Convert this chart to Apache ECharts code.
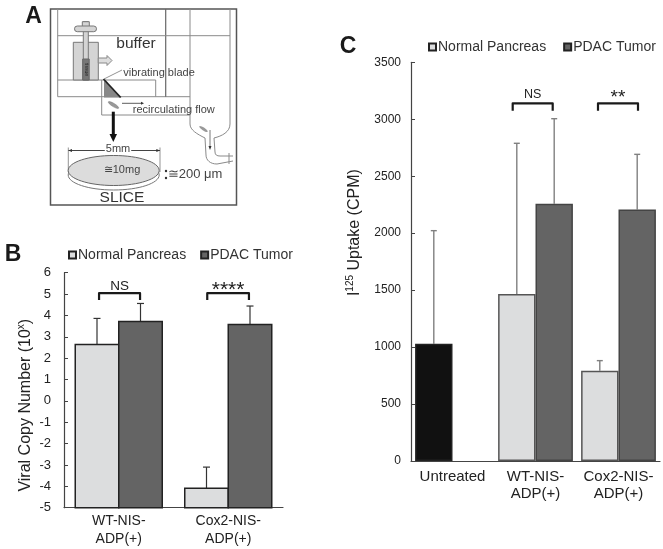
<!DOCTYPE html>
<html><head><meta charset="utf-8">
<style>html,body{margin:0;padding:0;background:#fff}#c{width:663px;height:549px}</style>
<script src="https://cdn.jsdelivr.net/npm/echarts@6/dist/echarts.min.js"></script>
</head><body><div id="c"></div>
<script>
const seriesNames = ['Normal Pancreas', 'PDAC Tumor'];
const bCategories = ['WT-NIS-\nADP(+)', 'Cox2-NIS-\nADP(+)'];
const bNormal = [2.64, -4.09];
const bNormalUpper = [3.86, -3.10];
const bTumor = [3.72, 3.58];
const bTumorUpper = [4.56, 4.44];
const bMarks = ['NS', '****'];
const bBracketTop = [5.04, 5.04];
const bBracketFoot = [4.72, 4.72];

const cCategories = ['Untreated', 'WT-NIS-\nADP(+)', 'Cox2-NIS-\nADP(+)'];
const cNormal = [1030, 1466, 793];
const cNormalUpper = [2022, 2789, 881];
const cTumor = [null, 2259, 2207];
const cTumorUpper = [null, 3005, 2692];
const cMarks = [null, 'NS', '**'];
const cBracketTop = [null, 3140, 3140];
const cBracketFoot = [null, 3075, 3075];

const FONT = '"Liberation Sans", Arial, sans-serif';
const LIGHT = '#dcddde', DARK = '#646464';
const chart = echarts.init(document.getElementById('c'), null, {renderer: 'canvas'});

// Panel B: bars rise from the axis floor (-5), as in the original, so they are custom marks.
function floorBar(floor, dir, width, border) {
  return (p, api) => {
    const x = api.value(0), v = api.value(1);
    const top = api.coord([x, v]), base = api.coord([x, floor]);
    const left = dir < 0 ? top[0] - width : top[0];
    return {type: 'rect', shape: {x: left, y: top[1], width, height: base[1] - top[1]},
      style: {fill: api.visual('color'), stroke: border, lineWidth: 1.5}};
  };
}
function errorBar(dir, halfBar, cap, color, lw) {
  return (p, api) => {
    const x = api.value(0), v = api.value(1), u = api.value(2);
    const a = api.coord([x, v]), b = api.coord([x, u]);
    const cx = a[0] + dir * halfBar;
    const style = {stroke: color, lineWidth: lw, fill: null};
    return {type: 'group', children: [
      {type: 'line', shape: {x1: cx, y1: a[1], x2: cx, y2: b[1]}, style},
      {type: 'line', shape: {x1: cx - cap, y1: b[1], x2: cx + cap, y2: b[1]}, style}
    ]};
  };
}
function bracket(lo, hi, labelGap, fontSize) {
  return (p, api) => {
    const i = p.dataIndex;
    const x = api.value(0), t = api.value(1), f = api.value(2);
    const a = api.coord([x, t]), b = api.coord([x, f]);
    return {type: 'group', children: [
      {type: 'polyline', shape: {points: [[a[0] + lo[i], b[1]], [a[0] + lo[i], a[1]], [a[0] + hi[i], a[1]], [a[0] + hi[i], b[1]]]},
        style: {stroke: '#1a1a1a', lineWidth: 2.2, fill: null, lineJoin: 'round'}},
      {type: 'text', style: {x: a[0] + (lo[i] + hi[i]) / 2, y: a[1] - labelGap[i],
        text: api.value(3), fill: '#222', font: fontSize[i] + 'px ' + FONT, textAlign: 'center', textVerticalAlign: 'middle'}}
    ]};
  };
}

const axisCommon = {
  axisLine: {show: true, lineStyle: {color: '#444', width: 1.2}},
  axisTick: {show: true, inside: true, length: 4, lineStyle: {color: '#444', width: 1}},
  splitLine: {show: false}
};
const sup = {t: {fontSize: 16, fontFamily: FONT, color: '#222', lineHeight: 20},
             s: {fontSize: 10, fontFamily: FONT, color: '#222', lineHeight: 20, verticalAlign: 'top', padding: [0, 0, 6, 0]}};

// Panel A: apparatus schematic
function L(pts, color, w, fill) {
  return {type: 'polyline', shape: {points: pts}, style: {stroke: color || '#8a8a8a', lineWidth: w || 1, fill: fill || null}};
}
function R(x, y, w, h, fill, stroke, r) {
  return {type: 'rect', shape: {x, y, width: w, height: h, r: r || 0}, style: {fill, stroke: stroke || '#888', lineWidth: 1}};
}
function T(x, y, text, size, extra) {
  return {type: 'text', style: Object.assign({x, y, text, font: size + 'px ' + FONT, fill: '#444', textAlign: 'center', textVerticalAlign: 'middle'}, extra || {})};
}
function curve(x1, y1, cx1, cy1, cx2, cy2, x2, y2, w) {
  return {type: 'bezierCurve', shape: {x1, y1, cpx1: cx1, cpy1: cy1, cpx2: cx2, cpy2: cy2, x2, y2}, style: {stroke: '#8a8a8a', lineWidth: w || 1, fill: null}};
}
const schematic = [
  {type: 'rect', shape: {x: 50.5, y: 9, width: 186, height: 196}, style: {fill: '#fff', stroke: '#555', lineWidth: 1.5}},
  L([[57.7, 9], [57.7, 96.7], [190, 96.7]]),
  L([[165.7, 9], [165.7, 96.7]], '#666', 1.2),
  L([[190, 9], [190, 115]]),
  L([[230, 9], [230, 124]]),
  L([[57.7, 35.7], [230, 35.7]]),
  L([[57.7, 80], [155.7, 80], [155.7, 96.7]]),
  L([[101.7, 80], [101.7, 115], [190, 115], [190, 124]]),
  curve(190, 124, 190, 130, 197, 134, 205, 138),
  curve(230, 124, 230, 132, 222, 136, 214, 138),
  L([[205, 138], [206, 155]]),
  curve(206, 155, 206, 160, 210, 164, 217, 164),
  L([[217, 164], [233, 161]]),
  L([[214, 138], [215, 152]]),
  curve(215, 152, 215, 155, 217, 156, 220, 156),
  L([[220, 156], [233, 156]]),
  L([[229, 153], [229, 164]]),
  R(73.3, 42.3, 25, 37.7, '#d4d4d4', '#777'),
  R(83.3, 21.7, 5, 58.3, '#d4d4d4', '#777'),
  R(82.3, 21.7, 7, 5, '#d4d4d4', '#777'),
  R(74.5, 26, 22, 5.7, '#d4d4d4', '#777', 2.8),
  R(82.7, 59, 6.5, 21, '#777', '#666'),
  {type: 'text', x: 85.9, y: 69.5, rotation: -Math.PI / 2,
    style: {text: 'tissue', font: '5px ' + FONT, fill: '#222', textAlign: 'center', textVerticalAlign: 'middle'}},
  {type: 'polygon', shape: {points: [[98.3, 58], [107, 58], [107, 55.5], [112, 60.5], [107, 65.5], [107, 63], [98.3, 63]]}, style: {fill: '#ddd', stroke: '#888', lineWidth: 1}},
  {type: 'polygon', shape: {points: [[104, 80], [104, 97.5], [120.5, 97.5]]}, style: {fill: '#888', stroke: null}},
  L([[103.5, 79], [120.7, 97.5]], '#222', 1.8),
  L([[104, 79], [122, 70]], '#777', 0.8),
  T(159, 73, 'vibrating blade', 11),
  T(136, 44, 'buffer', 15.5, {fill: '#333'}),
  {type: 'ellipse', shape: {cx: 113.5, cy: 105, rx: 6, ry: 1.6}, rotation: -0.55, originX: 113.5, originY: 105, style: {fill: '#999', stroke: '#777', lineWidth: 0.5}},
  L([[122, 103.3], [141, 103.3]], '#333', 0.8),
  {type: 'polygon', shape: {points: [[141, 101.8], [141, 104.8], [144, 103.3]]}, style: {fill: '#333'}},
  T(173.8, 109.5, 'recirculating flow', 11),
  L([[113.3, 111.7], [113.3, 136]], '#111', 3),
  {type: 'polygon', shape: {points: [[109.5, 134], [117, 134], [113.3, 142]]}, style: {fill: '#111'}},
  L([[68.3, 150.5], [160, 150.5]], '#444', 1),
  L([[68.3, 147.5], [68.3, 172]], '#666', 0.7),
  L([[160, 147.5], [160, 172]], '#666', 0.7),
  {type: 'polygon', shape: {points: [[68.3, 150.5], [72, 149], [72, 152]]}, style: {fill: '#333'}},
  {type: 'polygon', shape: {points: [[160, 150.5], [156.3, 149], [156.3, 152]]}, style: {fill: '#333'}},
  T(118, 149, '5mm', 11, {backgroundColor: '#fff', padding: [0, 1, 0, 1]}),
  {type: 'ellipse', shape: {cx: 113.7, cy: 175, rx: 45.5, ry: 15}, style: {fill: '#fff', stroke: '#777', lineWidth: 1}},
  {type: 'ellipse', shape: {cx: 113.7, cy: 170.5, rx: 45.5, ry: 15}, style: {fill: '#dcdcdc', stroke: '#666', lineWidth: 1}},
  T(122, 170, '≅10mg', 11),
  {type: 'circle', shape: {cx: 166, cy: 171, r: 1.2}, style: {fill: '#333'}},
  {type: 'circle', shape: {cx: 166, cy: 178, r: 1.2}, style: {fill: '#333'}},
  T(195, 174, '≅200 μm', 13),
  T(122, 198, 'SLICE', 15.5, {fill: '#333'}),
  {type: 'ellipse', shape: {cx: 203.5, cy: 129, rx: 5, ry: 1.4}, rotation: -0.6, originX: 203.5, originY: 129, style: {fill: '#999'}},
  L([[210, 130], [210, 148]], '#555', 0.8),
  {type: 'polygon', shape: {points: [[208.5, 146], [211.5, 146], [210, 150]]}, style: {fill: '#333'}},
  T(33.5, 17, 'A', 23, {font: 'bold 23px ' + FONT, fill: '#1a1a1a'}),
  T(13, 255, 'B', 23, {font: 'bold 23px ' + FONT, fill: '#1a1a1a'}),
  T(348, 47, 'C', 23, {font: 'bold 23px ' + FONT, fill: '#1a1a1a'})
];

const legendBase = {
  data: seriesNames, icon: 'rect', itemWidth: 7, itemHeight: 7, selectedMode: false,
  textStyle: {fontFamily: FONT, fontSize: 14, color: '#333', padding: [0, 0, 0, -3]}, padding: 0
};
const bw = 43.5, cw = 37.4;

chart.setOption({
  animation: false,
  backgroundColor: '#fff',
  graphic: {elements: schematic},
  legend: [
    Object.assign({left: 68, top: 248, itemGap: 14}, legendBase),
    Object.assign({left: 428, top: 40, itemGap: 17}, legendBase)
  ],
  grid: [
    {left: 64, top: 272.7, width: 219, height: 235},
    {left: 411, top: 62.3, width: 249, height: 398.7}
  ],
  xAxis: [
    {type: 'category', gridIndex: 0, data: bCategories,
      axisLine: {lineStyle: {color: '#444', width: 1.2}, onZero: false}, axisTick: {show: false},
      axisLabel: {interval: 0, fontFamily: FONT, fontSize: 14, color: '#222', lineHeight: 17.5, margin: 5}},
    {type: 'category', gridIndex: 1, data: cCategories,
      axisLine: {lineStyle: {color: '#444', width: 1.2}}, axisTick: {show: false},
      axisLabel: {interval: 0, fontFamily: FONT, fontSize: 15, color: '#222', lineHeight: 16.5, margin: 8}}
  ],
  yAxis: [
    Object.assign({type: 'value', gridIndex: 0, min: -5, max: 6, interval: 1,
      axisLabel: {fontFamily: FONT, fontSize: 13, color: '#222', margin: 13},
      name: '{t|Viral Copy Number (10}{s|x}{t|)}', nameLocation: 'middle', nameGap: 28,
      nameTextStyle: {rich: sup, padding: [0, 30, 0, 0]}}, axisCommon),
    Object.assign({type: 'value', gridIndex: 1, min: 0, max: 3500, interval: 500,
      axisLabel: {fontFamily: FONT, fontSize: 12, color: '#222', margin: 10, formatter: v => String(v)},
      name: '{t|I}{s|125}{t| Uptake (CPM)}', nameLocation: 'middle', nameGap: 46,
      nameTextStyle: {rich: sup, padding: [0, 0, 0, 58]}}, axisCommon)
  ],
  series: [
    {type: 'custom', name: seriesNames[0], xAxisIndex: 0, yAxisIndex: 0, z: 2,
      itemStyle: {color: LIGHT, borderColor: '#222', borderWidth: 1},
      data: bNormal.map((v, i) => [i, v]), encode: {x: 0, y: 1},
      renderItem: floorBar(-5, -1, bw, '#222')},
    {type: 'custom', name: seriesNames[1], xAxisIndex: 0, yAxisIndex: 0, z: 2,
      itemStyle: {color: DARK, borderColor: '#222', borderWidth: 1},
      data: bTumor.map((v, i) => [i, v]), encode: {x: 0, y: 1},
      renderItem: floorBar(-5, 1, bw, '#222')},
    {type: 'custom', xAxisIndex: 0, yAxisIndex: 0, z: 1,
      data: bNormal.map((v, i) => [i, v, bNormalUpper[i]]), encode: {x: 0, y: [1, 2]},
      renderItem: errorBar(-1, bw / 2, 3.5, '#333', 1.2)},
    {type: 'custom', xAxisIndex: 0, yAxisIndex: 0, z: 1,
      data: bTumor.map((v, i) => [i, v, bTumorUpper[i]]), encode: {x: 0, y: [1, 2]},
      renderItem: errorBar(1, bw / 2, 3.5, '#333', 1.2)},
    {type: 'custom', xAxisIndex: 0, yAxisIndex: 0, z: 3,
      data: bMarks.map((m, i) => [i, bBracketTop[i], bBracketFoot[i], m]),
      dimensions: [null, null, null, {name: 'mark', type: 'ordinal'}],
      renderItem: bracket([-19.7, -21], [21.3, 20.7], [7, 2.8], [13.5, 21])},

    {type: 'bar', name: seriesNames[0], xAxisIndex: 1, yAxisIndex: 1, barWidth: cw, barGap: 0, z: 2,
      itemStyle: {color: LIGHT, borderColor: '#555', borderWidth: 1.5},
      data: cNormal.map((v, i) => i === 0 ? {value: v, itemStyle: {color: '#111', borderColor: '#222'}} : v)},
    {type: 'bar', name: seriesNames[1], xAxisIndex: 1, yAxisIndex: 1, barWidth: cw, barGap: 0, z: 2,
      itemStyle: {color: DARK, borderColor: '#444', borderWidth: 1.5},
      data: cTumor},
    {type: 'custom', xAxisIndex: 1, yAxisIndex: 1, z: 1,
      data: cNormal.map((v, i) => [i, v, cNormalUpper[i]]), encode: {x: 0, y: [1, 2]},
      renderItem: errorBar(-1, cw / 2, 3, '#808080', 1.4)},
    {type: 'custom', xAxisIndex: 1, yAxisIndex: 1, z: 1,
      data: cTumor.map((v, i) => [i, v, cTumorUpper[i]]).filter(d => d[1] !== null), encode: {x: 0, y: [1, 2]},
      renderItem: errorBar(1, cw / 2, 3, '#808080', 1.4)},
    {type: 'custom', xAxisIndex: 1, yAxisIndex: 1, z: 3,
      data: cMarks.map((m, i) => [i, cBracketTop[i], cBracketFoot[i], m]).filter(d => d[3] !== null),
      dimensions: [null, null, null, {name: 'mark', type: 'ordinal'}],
      renderItem: bracket([-22.8, -20.5], [17.2, 19.5], [9, 5.5], [12.5, 19])}
  ]
});
</script></body></html>
